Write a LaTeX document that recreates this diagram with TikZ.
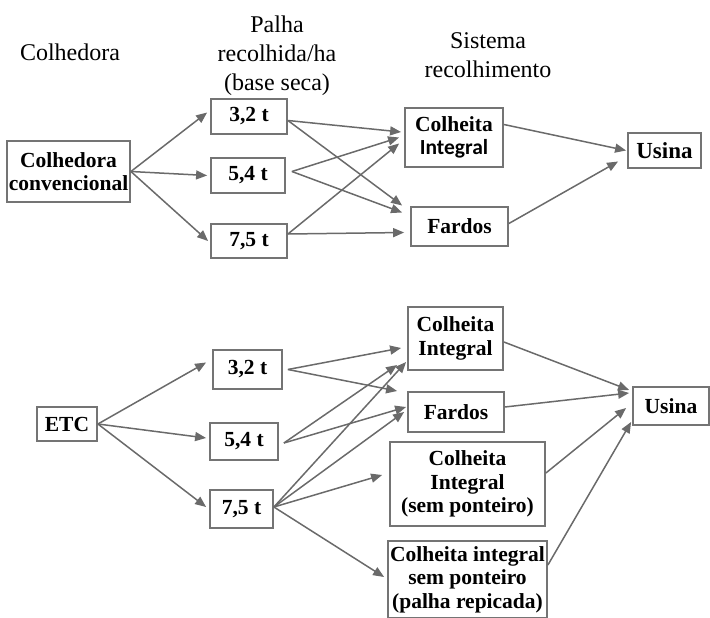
\documentclass[tikz,border=0pt]{standalone}
\usepackage{fontspec}
\setmainfont{Liberation Serif}
\newfontfamily\calibri{Carlito}
\usepackage{tikz}
\usetikzlibrary{arrows,arrows.meta}
\definecolor{linegray}{HTML}{6A6A6A}
\definecolor{boxgray}{HTML}{747474}

\begin{document}
\begin{tikzpicture}[x=1pt,y=-1pt,
    box/.style={draw=boxgray,line width=1.8pt,align=center,inner sep=0pt,
        font=\fontsize{21.5}{23.5}\selectfont\bfseries},
    head/.style={align=center,font=\fontsize{24}{29}\selectfont},
    link/.style={linegray,line width=1.5pt,-{Triangle[length=11pt,width=9pt]}}]
\useasboundingbox (0,0) rectangle (710,618);

\node[head] (h_1) at (70,52) {Colhedora};
\node[head] (h_2) at (277,56) {Palha\\recolhida/ha\\(base seca)};
\node[head] (h_3) at (488,55) {Sistema\\recolhimento};

\node[box,minimum width=123pt,minimum height=61pt] (c_0) at (68.5,171.5) {Colhedora\\convencional};
\node[box,minimum width=76pt,minimum height=35pt] (p_1) at (249,116.5) {3,2 t};
\node[box,minimum width=74pt,minimum height=35pt] (p_2) at (248,175.5) {5,4 t};
\node[box,minimum width=76pt,minimum height=34pt] (p_3) at (249,241) {7,5 t};
\node[box,minimum width=98pt,minimum height=59pt] (s_1) at (454,137.5) {Colheita\\{\calibri\bfseries Integral}};
\node[box,minimum width=97pt,minimum height=39pt] (s_2) at (459.5,226.5) {Fardos};
\node[box,minimum width=73pt,minimum height=35pt,font=\fontsize{23}{24}\selectfont\bfseries] (u_1) at (664.5,150.5) {Usina};

\node[box,minimum width=60pt,minimum height=34pt] (e_0) at (67,424) {ETC};
\node[box,minimum width=69pt,minimum height=39pt] (q_1) at (247.5,369.5) {3,2 t};
\node[box,minimum width=68pt,minimum height=37pt] (q_2) at (244,441.5) {5,4 t};
\node[box,minimum width=63pt,minimum height=38pt] (q_3) at (241.5,509) {7,5 t};
\node[box,minimum width=95pt,minimum height=63pt] (r_1) at (455.5,338.5) {Colheita\\Integral};
\node[box,minimum width=96pt,minimum height=40pt] (r_2) at (456,412) {Fardos};
\node[box,minimum width=155pt,minimum height=84pt] (r_3) at (467.5,484) {Colheita\\Integral\\(sem ponteiro)};
\node[box,minimum width=159pt,minimum height=77pt] (r_4) at (467.5,579.5) {Colheita integral\\sem ponteiro\\(palha repicada)};
\node[box,minimum width=76pt,minimum height=38pt] (u_2) at (671,406) {Usina};

\path[link] (c_0.east) edge ([xshift=-3pt,yshift=4pt]p_1.west)
    (c_0.east) edge ([xshift=-3pt]p_2.west)
    (c_0.east) edge ([xshift=-2pt]p_3.west)
    ([yshift=-4pt]p_1.east) edge ([xshift=-3pt,yshift=5.5pt]s_1.west)
    ([yshift=-4pt]p_1.east) edge ([xshift=-8pt,yshift=21pt]s_2.west)
    ([xshift=6pt,yshift=4pt]p_2.east) edge ([xshift=-5pt]s_1.west)
    ([xshift=6pt,yshift=4pt]p_2.east) edge ([xshift=-8pt,yshift=14pt]s_2.west)
    ([yshift=7pt]p_3.east) edge ([xshift=-5pt,yshift=-6pt]s_1.west)
    ([yshift=7pt]p_3.east) edge ([xshift=-6pt,yshift=-6pt]s_2.west)
    ([yshift=13pt]s_1.east) edge ([xshift=-1pt]u_1.west)
    ([yshift=3pt]s_2.east) edge ([xshift=-9pt,yshift=-11pt]u_1.west);

\path[link] (e_0.east) edge ([xshift=-6pt,yshift=7pt]q_1.west)
    (e_0.east) edge ([xshift=-3pt,yshift=3.5pt]q_2.west)
    (e_0.east) edge ([xshift=-3pt,yshift=2pt]q_3.west)
    ([xshift=5pt]q_1.east) edge ([xshift=-6pt,yshift=-9.5pt]r_1.west)
    ([xshift=5pt]q_1.east) edge ([xshift=-10pt,yshift=21pt]r_2.west)
    ([xshift=5pt,yshift=-1.5pt]q_2.east) edge ([xshift=-10pt,yshift=-26.5pt]r_1.west)
    ([xshift=5pt,yshift=-1.5pt]q_2.east) edge ([xshift=-1pt,yshift=5pt]r_2.west)
    ([yshift=2pt]q_3.east) edge ([xshift=-1pt,yshift=-23.5pt]r_1.west)
    ([yshift=2pt]q_3.east) edge ([xshift=-3pt]r_2.west)
    ([yshift=2pt]q_3.east) edge ([xshift=-7pt,yshift=9pt]r_3.west)
    ([yshift=2pt]q_3.east) edge ([xshift=-3pt,yshift=2.5pt]r_4.west)
    ([yshift=-3.5pt]r_1.east) edge ([xshift=-3pt,yshift=16pt]u_2.west)
    ([yshift=5pt]r_2.east) edge ([xshift=-3pt,yshift=13pt]u_2.west)
    ([yshift=11pt]r_3.east) edge ([xshift=-6pt,yshift=-2pt]u_2.west)
    ([yshift=14.5pt]r_4.east) edge ([xshift=-1pt,yshift=-16pt]u_2.west);
\end{tikzpicture}
\end{document}
